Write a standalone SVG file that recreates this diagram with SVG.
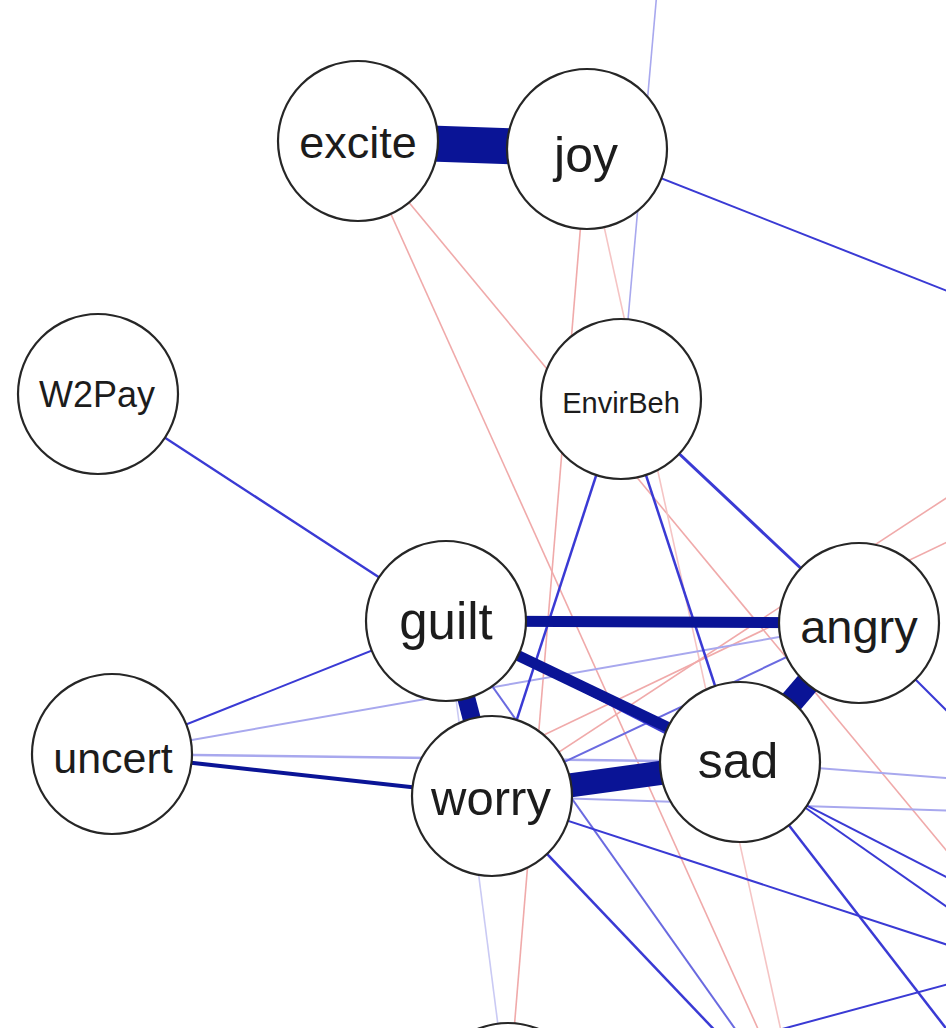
<svg xmlns="http://www.w3.org/2000/svg" width="946" height="1028" viewBox="0 0 946 1028">
  <style>
    .node circle { fill: #ffffff; stroke: #262626; stroke-width: 2.2; }
    .node text { font-family: "Liberation Sans", Arial, sans-serif; fill: #1c1c1c; text-anchor: middle; }
    .edges line { stroke-linecap: butt; fill: none; }
    .strong { stroke: #0a1496; }
    .pos { stroke: #3a3ad4; }
    .pos2 { stroke: #6a6ae0; }
    .pos3 { stroke: #a8a8ee; }
    .pos4 { stroke: #cacaf4; }
    .neg { stroke: #f0aaaa; }
    .neg2 { stroke: #f5c4c4; }
  </style>
  <rect width="946" height="1028" fill="#ffffff"/>

  <!-- connectors: drawn centre to centre, nodes are painted on top -->
  <g id="edges" class="edges">
    <!-- negative (red) edges -->
    <line class="neg" x1="358" y1="141" x2="763" y2="1040" stroke-width="1.6"/>
    <line class="neg" x1="358" y1="141" x2="960" y2="867" stroke-width="1.6"/>
    <line class="neg" x1="587" y1="149" x2="508" y2="1103" stroke-width="1.6"/>
    <line class="neg2" x1="587" y1="149" x2="783" y2="1040" stroke-width="1.6"/>
    <line class="neg" x1="492" y1="796" x2="960" y2="489" stroke-width="1.6"/>
    <line class="neg" x1="500" y1="756" x2="960" y2="536" stroke-width="1.6"/>

    <!-- light positive edges -->
    <line class="pos3" x1="621" y1="399" x2="658" y2="-20" stroke-width="1.6"/>
    <line class="pos4" x1="446" y1="621" x2="508" y2="1103" stroke-width="1.6"/>
    <line class="pos3" x1="112" y1="754" x2="859" y2="623" stroke-width="2"/>
    <line class="pos3" x1="112" y1="754" x2="740" y2="762" stroke-width="2.5"/>
    <line class="pos3" x1="740" y1="762" x2="960" y2="779" stroke-width="2"/>
    <line class="pos3" x1="492" y1="796" x2="960" y2="811" stroke-width="2"/>
    <line class="pos2" x1="446" y1="621" x2="743" y2="1040" stroke-width="2"/>

    <!-- medium positive edges -->
    <line class="pos" x1="587" y1="149" x2="960" y2="296" stroke-width="2"/>
    <line class="pos" x1="98" y1="394" x2="446" y2="621" stroke-width="2.4"/>
    <line class="pos" x1="112" y1="754" x2="446" y2="621" stroke-width="2"/>
    <line class="pos" x1="621" y1="399" x2="859" y2="623" stroke-width="3"/>
    <line class="pos" x1="621" y1="399" x2="492" y2="796" stroke-width="2.5"/>
    <line class="pos" x1="621" y1="399" x2="740" y2="762" stroke-width="2.5"/>
    <line class="pos2" x1="492" y1="796" x2="859" y2="623" stroke-width="2"/>
    <line class="pos" x1="740" y1="762" x2="960" y2="916" stroke-width="2"/>
    <line class="pos" x1="446" y1="621" x2="960" y2="884" stroke-width="2"/>
    <line class="pos" x1="740" y1="762" x2="955" y2="1040" stroke-width="2.5"/>
    <line class="pos" x1="492" y1="796" x2="960" y2="949" stroke-width="2"/>
    <line class="pos" x1="492" y1="796" x2="724" y2="1040" stroke-width="2.5"/>
    <line class="pos" x1="508" y1="1103" x2="960" y2="981" stroke-width="2"/>
    <line class="pos" x1="859" y1="623" x2="960" y2="724" stroke-width="2"/>

    <!-- strong positive edges -->
    <line class="strong" x1="112" y1="754" x2="492" y2="796" stroke-width="4"/>
    <line class="strong" x1="446" y1="621" x2="859" y2="623" stroke-width="11"/>
    <line class="strong" x1="446" y1="621" x2="740" y2="762" stroke-width="11"/>
    <line class="strong" x1="446" y1="621" x2="492" y2="796" stroke-width="18"/>
    <line class="strong" x1="859" y1="623" x2="740" y2="762" stroke-width="24"/>
    <line class="strong" x1="492" y1="796" x2="740" y2="762" stroke-width="24"/>
    <line class="strong" x1="358" y1="141" x2="587" y2="149" stroke-width="36"/>
  </g>

  <g id="excite" class="node">
    <circle cx="358" cy="141" r="80"/>
    <text x="358" y="158" font-size="45">excite</text>
  </g>
  <g id="joy" class="node">
    <circle cx="587" cy="149" r="80"/>
    <text x="586" y="172" font-size="50">joy</text>
  </g>
  <g id="W2Pay" class="node">
    <circle cx="98" cy="394" r="80"/>
    <text x="97" y="407" font-size="36">W2Pay</text>
  </g>
  <g id="EnvirBeh" class="node">
    <circle cx="621" cy="399" r="80"/>
    <text x="621" y="413" font-size="29">EnvirBeh</text>
  </g>
  <g id="guilt" class="node">
    <circle cx="446" cy="621" r="80"/>
    <text x="446" y="639" font-size="51">guilt</text>
  </g>
  <g id="angry" class="node">
    <circle cx="859" cy="623" r="80"/>
    <text x="859" y="643" font-size="47">angry</text>
  </g>
  <g id="uncert" class="node">
    <circle cx="112" cy="754" r="80"/>
    <text x="113" y="773" font-size="43">uncert</text>
  </g>
  <g id="sad" class="node">
    <circle cx="740" cy="762" r="80"/>
    <text x="738" y="778" font-size="50">sad</text>
  </g>
  <g id="worry" class="node">
    <circle cx="492" cy="796" r="80"/>
    <text x="491" y="815" font-size="49">worry</text>
  </g>
  <g id="node-bottom" class="node">
    <circle cx="508" cy="1103" r="80"/>
  </g>
</svg>
